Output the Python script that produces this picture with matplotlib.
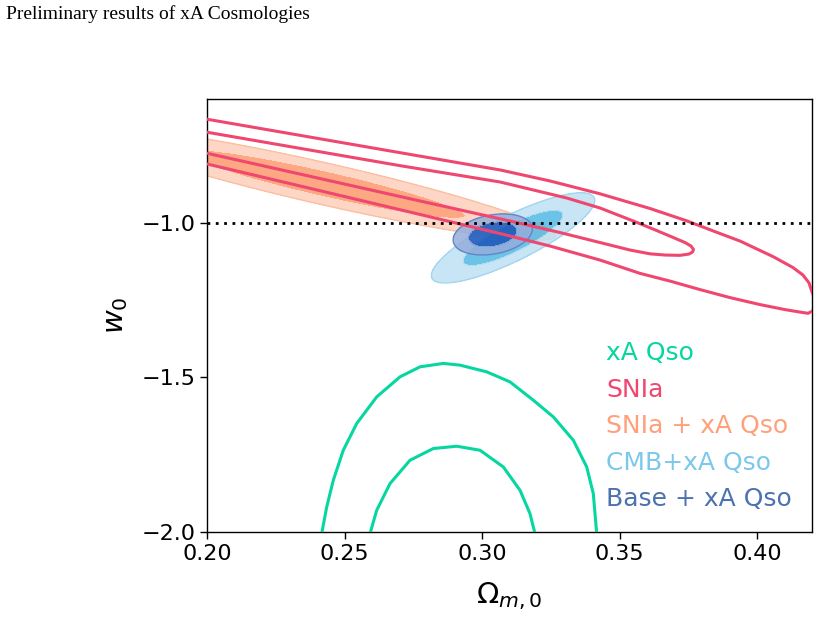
import numpy as np
import matplotlib
matplotlib.use("Agg")
import matplotlib.pyplot as plt
from matplotlib.lines import Line2D

# ---------------- data ----------------
# SNIa: 95% and 68% contour lines (Omega_m0, w0)
sn95_x = [0.17927, 0.2, 0.23382, 0.27018, 0.30655, 0.32473, 0.34291, 0.36109, 0.37444,
          0.38655, 0.39382, 0.40593, 0.41309, 0.41673, 0.41891, 0.42, 0.42073, 0.42091,
          0.42073, 0.42018, 0.41855, 0.41564, 0.41018, 0.40109, 0.39018, 0.37927,
          0.36836, 0.35745, 0.34291, 0.32473, 0.30655, 0.27018, 0.23382, 0.2, 0.17927]
sn95_y = [-0.6340, -0.6654, -0.7175, -0.7735, -0.8294, -0.8650, -0.9065, -0.9540, -0.9939,
          -1.0350, -1.0592, -1.1100, -1.1450, -1.1693, -1.1945, -1.2236, -1.2405, -1.2566,
          -1.2728, -1.2858, -1.2929, -1.2890, -1.2809, -1.2647, -1.2421, -1.2162,
          -1.1887, -1.1638, -1.1207, -1.0754, -1.0350, -0.9579, -0.8812, -0.8100, -0.7663]
sn68_x = [0.17927, 0.2, 0.23382, 0.27018, 0.30655, 0.33080, 0.34291, 0.35502, 0.36291,
          0.36956, 0.37382, 0.37600, 0.37691, 0.37655, 0.37527, 0.37200, 0.36655, 0.36109,
          0.35382, 0.34291, 0.32836, 0.31382, 0.27018, 0.23382, 0.2, 0.17927]
sn68_y = [-0.6754, -0.7074, -0.7595, -0.8155, -0.8683, -0.9201, -0.9524, -0.9945, -1.0230,
          -1.0479, -1.0641, -1.0754, -1.0867, -1.0948, -1.1013, -1.1055, -1.1045, -1.1006,
          -1.0883, -1.0641, -1.0317, -1.0019, -0.9152, -0.8427, -0.7754, -0.7340]

# xA Qso: 95% and 68% contour lines
qso95_x = [0.24171, 0.24353, 0.24593, 0.24956, 0.25444, 0.26171, 0.27018, 0.27745, 0.28593,
           0.29200, 0.30171, 0.31018, 0.31865, 0.32593, 0.33320, 0.33807, 0.34047, 0.34171]
qso95_y = [-2.0052, -1.9191, -1.8327, -1.7356, -1.6492, -1.5631, -1.4984, -1.4660, -1.4550,
           -1.4605, -1.4822, -1.5146, -1.5738, -1.6278, -1.7032, -1.7896, -1.8757, -2.0052]
qso68_x = [0.25927, 0.26171, 0.26655, 0.27382, 0.28229, 0.29080, 0.29927, 0.30775, 0.31382,
           0.31745, 0.31927]
qso68_y = [-2.0052, -1.9298, -1.8434, -1.7680, -1.7301, -1.7227, -1.7356, -1.7896, -1.8650,
           -1.9405, -2.0052]

# Gaussian summaries (mean Om, mean w0, sigma Om, sigma w0, correlation) of filled posteriors
sn_qso_stats = [0.24291, -0.8748, 0.03367, 0.07295, -0.9244]
cmb_qso_stats = [0.3113, -1.049, 0.01196, 0.05875, 0.832]
base_qso_stats = [0.3039, -1.0379, 0.0058, 0.0267, 0.267]

labels = ["xA Qso", "SNIa", "SNIa + xA Qso", "CMB+xA Qso", "Base + xA Qso"]
label_colors = ["#06D6A0", "#EF476F", "#FFA07A", "#7CC8EB", "#4C72B0"]

xticks = [0.20, 0.25, 0.30, 0.35, 0.40]
yticks = [-2.0, -1.5, -1.0]
w_lcdm = -1.0

# ---------------- figure ----------------
fig = plt.figure(figsize=(8.21, 6.20), dpi=100)
ax = fig.add_axes([207 / 821, 88 / 620, 605 / 821, 433 / 620])

gx = np.linspace(0.15, 0.45, 900)
gy = np.linspace(-2.2, -0.4, 900)
GX, GY = np.meshgrid(gx, gy)
levels = [0.0, 2.30, 6.17]


def chi2(stats):
    mx, my, sx, sy, r = stats
    dx = (GX - mx) / sx
    dy = (GY - my) / sy
    return (dx * dx - 2 * r * dx * dy + dy * dy) / (1 - r * r)


def filled(stats, inner, outer, edge, alpha, z):
    c = chi2(stats)
    ax.contourf(GX, GY, c, levels=levels, colors=[inner, outer], alpha=alpha, zorder=z)
    ax.contour(GX, GY, c, levels=[6.17], colors=[edge], linewidths=1.0, alpha=alpha, zorder=z)


filled(sn_qso_stats, "#FCA882", "#FDD6C6", "#FBBFA3", 1.0, 1)
filled(cmb_qso_stats, "#54B8E4", "#BEE1F3", "#9CD3EE", 0.85, 2)
filled(base_qso_stats, "#1A54B8", "#95ADDC", "#5B7FC4", 0.85, 3)

kw = dict(lw=2.2, zorder=5, solid_joinstyle="round", solid_capstyle="round")
ax.plot(sn95_x, sn95_y, color="#EF476F", **kw)
ax.plot(sn68_x, sn68_y, color="#EF476F", **kw)
ax.plot(qso95_x, qso95_y, color="#06D6A0", **kw)
ax.plot(qso68_x, qso68_y, color="#06D6A0", **kw)

ax.axhline(w_lcdm, color="black", lw=2.0, ls=(0, (1, 2)), dash_capstyle="butt", zorder=6)

ax.set_xlim(0.2, 0.42)
ax.set_ylim(-2.0, -0.6)
ax.set_xticks(xticks)
ax.set_xticklabels([f"{v:.2f}" for v in xticks])
ax.set_yticks(yticks)
ax.set_yticklabels([f"{v:.1f}".replace("-", "\u2212") for v in yticks])
ax.tick_params(labelsize=16, length=5, width=1.0)
for s in ax.spines.values():
    s.set_linewidth(1.0)

ax.set_xlabel(r"$\Omega_{m,0}$", fontsize=21)
ax.set_ylabel(r"$w_0$", fontsize=21)
ax.xaxis.set_label_coords(0.5, -0.112)
ax.yaxis.set_label_coords(-0.127, 0.5)

handles = [Line2D([], [], lw=0, color=c) for c in label_colors]
leg = ax.legend(handles, labels, loc="upper left", bbox_to_anchor=(0.6595, 0.441),
                frameon=False, handlelength=0, handletextpad=0, borderpad=0,
                borderaxespad=0, labelspacing=0.5, fontsize=18,
                labelcolor=label_colors)
leg.set_zorder(10)

fig.text(6 / 821, 1 - 19 / 620, "Preliminary results of xA Cosmologies",
         family="Liberation Serif", fontsize=14, va="baseline", ha="left")

fig.savefig("out.png", dpi=100)
